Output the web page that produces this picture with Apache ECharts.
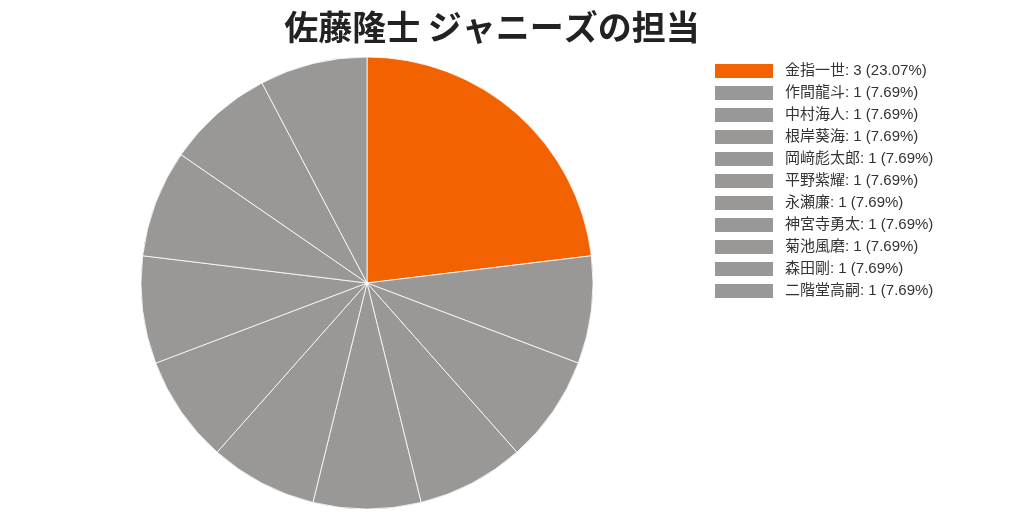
<!DOCTYPE html>
<html><head><meta charset="utf-8">
<script src="https://cdn.jsdelivr.net/npm/echarts@6/dist/echarts.min.js"></script>
<style>html,body{margin:0;padding:0;background:#fff}#c{width:1024px;height:512px}</style>
</head><body><div id="c"></div>
<script>
const titleText = '佐藤隆士 ジャニーズの担当';
const names = ['金指一世','作間龍斗','中村海人','根岸葵海','岡﨑彪太郎','平野紫耀','永瀬廉','神宮寺勇太','菊池風磨','森田剛','二階堂高嗣'];
const values = [3,1,1,1,1,1,1,1,1,1,1];
const colors = ['#f26200','#999896','#999896','#999896','#999896','#999896','#999896','#999896','#999896','#999896','#999896'];
const total = values.reduce((a,b)=>a+b,0);
const font = '"Noto Sans CJK JP", "Noto Sans", sans-serif';
const legendFont = '"Liberation Sans", "Noto Sans CJK JP", sans-serif';
const chart = echarts.init(document.getElementById('c'));
chart.setOption({
  animation:false,
  title:{text:titleText,left:487,top:5,textAlign:'center',textStyle:{fontFamily:font,fontSize:34,fontWeight:'bold',color:'#222'}},
  legend:{orient:'vertical',left:708,top:57,itemWidth:60,itemHeight:16,itemGap:4,icon:'rect',padding:5,
    textStyle:{fontFamily:legendFont,fontSize:15,color:'#333',lineHeight:16,padding:[0,0,0,6]},
    formatter:function(n){const i=names.indexOf(n);return n+': '+values[i]+' ('+(Math.floor(values[i]/total*10000)/100).toFixed(2)+'%)';}},
  series:[{type:'pie',center:[367,283],radius:226,startAngle:90,clockwise:true,
    label:{show:false},labelLine:{show:false},emphasis:{disabled:true},
    itemStyle:{borderColor:'#fff',borderWidth:0.8},
    data:names.map((n,i)=>({name:n,value:values[i],itemStyle:{color:colors[i]}}))}]
});
</script></body></html>
